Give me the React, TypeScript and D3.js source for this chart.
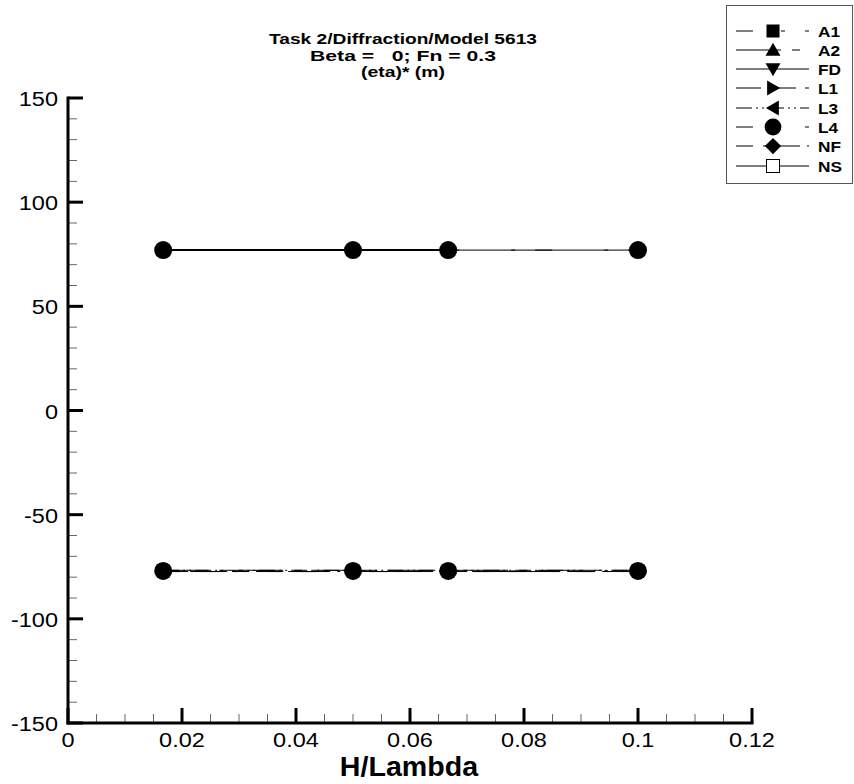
import React from "react";
import * as d3 from "d3";

const W = 854;
const H = 784;

const titleLines = ["Task 2/Diffraction/Model 5613", "Beta =   0; Fn = 0.3", "(eta)* (m)"];
const xLabel = "H/Lambda";

const xTicks = [0, 0.02, 0.04, 0.06, 0.08, 0.1, 0.12];
const xTickLabels = ["0", "0.02", "0.04", "0.06", "0.08", "0.1", "0.12"];
const yTicks = [-150, -100, -50, 0, 50, 100, 150];
const yTickLabels = ["-150", "-100", "-50", "0", "50", "100", "150"];

const hLambda = [0.0167, 0.05, 0.0667, 0.1];

// series values (eta* amplitude, m)
const A1 = [-77.3, -77.3, -77.3, -77.3];
const A2 = [-76.7, -76.7, -76.7, -76.7];
const FD = [77, 77, 77];
const L1 = [-77.3, -77.3, -77.3, -77.3];
const L3 = [-76.7, -76.7, -76.7, -76.7];
const L4pos = [77, 77, 77, 77];
const L4neg = [-77, -77, -77, -77];
const NF = [-77.3, -77.3, -77.3, -77.3];
const NS = [77, 77, 77, 77];

const legendNames = ["A1", "A2", "FD", "L1", "L3", "L4", "NF", "NS"];
const legendDash = [
  "17,28,4,20",
  "45,11,8,11",
  "",
  "25,7,28,9,4,20",
  "16,4,2,4,2,4",
  "17,52,4,20",
  "17,10,37,7,3,5,4,20",
  "",
];
const legendMarker = ["square", "triangle", "triangleDown", "triangleRight", "triangleLeft", "circle", "diamond", "squareOpen"];

type Series = { name: string; values: number[]; dash: string; width: number; marker: string };

const plotSeries: Series[] = [
  { name: "A1", values: A1, dash: legendDash[0], width: 1, marker: legendMarker[0] },
  { name: "A2", values: A2, dash: legendDash[1], width: 1, marker: legendMarker[1] },
  { name: "L1", values: L1, dash: legendDash[3], width: 1, marker: legendMarker[3] },
  { name: "L3", values: L3, dash: legendDash[4], width: 1, marker: legendMarker[4] },
  { name: "NF", values: NF, dash: legendDash[6], width: 1, marker: legendMarker[6] },
  { name: "NS", values: NS, dash: legendDash[7], width: 1, marker: legendMarker[7] },
  { name: "FD", values: FD, dash: legendDash[2], width: 2, marker: legendMarker[2] },
  { name: "L4", values: L4pos, dash: legendDash[5], width: 1, marker: legendMarker[5] },
  { name: "L4", values: L4neg, dash: legendDash[5], width: 1, marker: legendMarker[5] },
];

const FONT = "'Liberation Sans', Arial, Helvetica, sans-serif";

function Marker({ type, x, y, s }: { type: string; x: number; y: number; s: number }) {
  const h = s / 2;
  switch (type) {
    case "square":
      return <rect x={x - h} y={y - h} width={s} height={s} fill="#000" />;
    case "squareOpen":
      return <rect x={x - h} y={y - h} width={s} height={s} fill="#fff" stroke="#000" strokeWidth={1} />;
    case "triangle":
      return <path d={`M${x},${y - h * 1.1}L${x + h * 1.15},${y + h * 0.9}L${x - h * 1.15},${y + h * 0.9}Z`} fill="#000" />;
    case "triangleDown":
      return <path d={`M${x},${y + h * 1.1}L${x + h * 1.15},${y - h * 0.9}L${x - h * 1.15},${y - h * 0.9}Z`} fill="#000" />;
    case "triangleRight":
      return <path d={`M${x + h * 1.1},${y}L${x - h * 0.9},${y + h * 1.15}L${x - h * 0.9},${y - h * 1.15}Z`} fill="#000" />;
    case "triangleLeft":
      return <path d={`M${x - h * 1.1},${y}L${x + h * 0.9},${y + h * 1.15}L${x + h * 0.9},${y - h * 1.15}Z`} fill="#000" />;
    case "circle":
      return <circle cx={x} cy={y} r={h * 1.2} fill="#000" />;
    case "diamond":
      return <path d={`M${x},${y - h * 1.25}L${x + h * 1.25},${y}L${x},${y + h * 1.25}L${x - h * 1.25},${y}Z`} fill="#000" />;
    default:
      return null;
  }
}

export default function App() {
  const x = d3.scaleLinear().domain([0, 0.12]).range([68, 752]);
  const y = d3.scaleLinear().domain([-150, 150]).range([723, 98]);

  const xMinor = d3.range(0, 0.1201, 0.005).filter((v) => !xTicks.some((t) => Math.abs(t - v) < 1e-9));
  const yMinor = d3.range(-150, 150.1, 10).filter((v) => !yTicks.some((t) => Math.abs(t - v) < 1e-9));

  const line = d3
    .line<[number, number]>()
    .x((d) => x(d[0]))
    .y((d) => y(d[1]));

  const legendRowY = [31, 50, 69, 88, 108, 127, 146, 166];
  const titleWidths = [268, 186, 84];

  return (
    <svg width={W} height={H} style={{ position: "absolute", left: 0, top: 0, background: "#fff" }}>
      <rect x={0} y={0} width={W} height={H} fill="#fff" />
      {/* title */}
      {titleLines.map((t, i) => (
        <text
          key={i}
          x={403 - titleWidths[i] / 2}
          y={44 + i * 16.5}
          fontFamily={FONT}
          fontWeight="bold"
          fontSize={15.5}
          textLength={titleWidths[i]}
          lengthAdjust="spacingAndGlyphs"
          style={{ whiteSpace: "pre" }}
        >
          {t}
        </text>
      ))}

      {/* series lines */}
      {plotSeries.map((s, i) => (
        <path
          key={"l" + i}
          d={line(s.values.map((v, j) => [hLambda[j], v] as [number, number])) || ""}
          fill="none"
          stroke="#000"
          strokeWidth={s.width}
          strokeDasharray={s.dash || undefined}
        />
      ))}
      {/* series markers */}
      {plotSeries.map((s, i) =>
        s.values.map((v, j) => (
          <Marker key={"m" + i + "-" + j} type={s.marker} x={x(hLambda[j])} y={y(v)} s={s.marker === "circle" ? 15 : 10} />
        ))
      )}

      {/* minor ticks */}
      {xMinor.map((v, i) => (
        <line key={"xm" + i} x1={x(v)} x2={x(v)} y1={723} y2={714} stroke="#666" strokeWidth={1} />
      ))}
      {yMinor.map((v, i) => (
        <line key={"ym" + i} x1={68} x2={77} y1={y(v)} y2={y(v)} stroke="#666" strokeWidth={1} />
      ))}
      {/* major ticks */}
      {xTicks.map((v, i) => (
        <line key={"xM" + i} x1={x(v)} x2={x(v)} y1={723} y2={708} stroke="#000" strokeWidth={3} />
      ))}
      {yTicks.map((v, i) => (
        <line key={"yM" + i} x1={68} x2={83} y1={y(v)} y2={y(v)} stroke="#000" strokeWidth={3} />
      ))}
      {/* axes */}
      <line x1={68} x2={68} y1={96.5} y2={724.5} stroke="#000" strokeWidth={3} />
      <line x1={66.5} x2={753.5} y1={723} y2={723} stroke="#000" strokeWidth={3} />

      {/* tick labels */}
      {xTicks.map((v, i) => (
        <text
          key={"xt" + i}
          transform={`translate(${x(v)},747) scale(1.12,1)`}
          textAnchor="middle"
          fontFamily={FONT}
          fontSize={21}
        >
          {xTickLabels[i]}
        </text>
      ))}
      {yTicks.map((v, i) => (
        <text
          key={"yt" + i}
          transform={`translate(58,${y(v) + 8}) scale(1.12,1)`}
          textAnchor="end"
          fontFamily={FONT}
          fontSize={21}
        >
          {yTickLabels[i]}
        </text>
      ))}
      <text
        transform={`translate(409,776) scale(1.06,1)`}
        textAnchor="middle"
        fontFamily={FONT}
        fontWeight="bold"
        fontSize={27}
      >
        {xLabel}
      </text>

      {/* legend */}
      <rect x={726.5} y={5.5} width={126} height={178} fill="#fff" stroke="#555" strokeWidth={1} />
      {legendNames.map((n, i) => (
        <g key={"lg" + i}>
          <line
            x1={736}
            x2={809}
            y1={legendRowY[i]}
            y2={legendRowY[i]}
            stroke="#000"
            strokeWidth={1}
            strokeDasharray={legendDash[i] || undefined}
          />
          <Marker type={legendMarker[i]} x={773} y={legendRowY[i]} s={legendMarker[i] === "circle" ? 14 : 13} />
          <text
            transform={`translate(818,${legendRowY[i] + 5.5}) scale(1.15,1)`}
            fontFamily={FONT}
            fontWeight="bold"
            fontSize={15}
          >
            {n}
          </text>
        </g>
      ))}
    </svg>
  );
}
